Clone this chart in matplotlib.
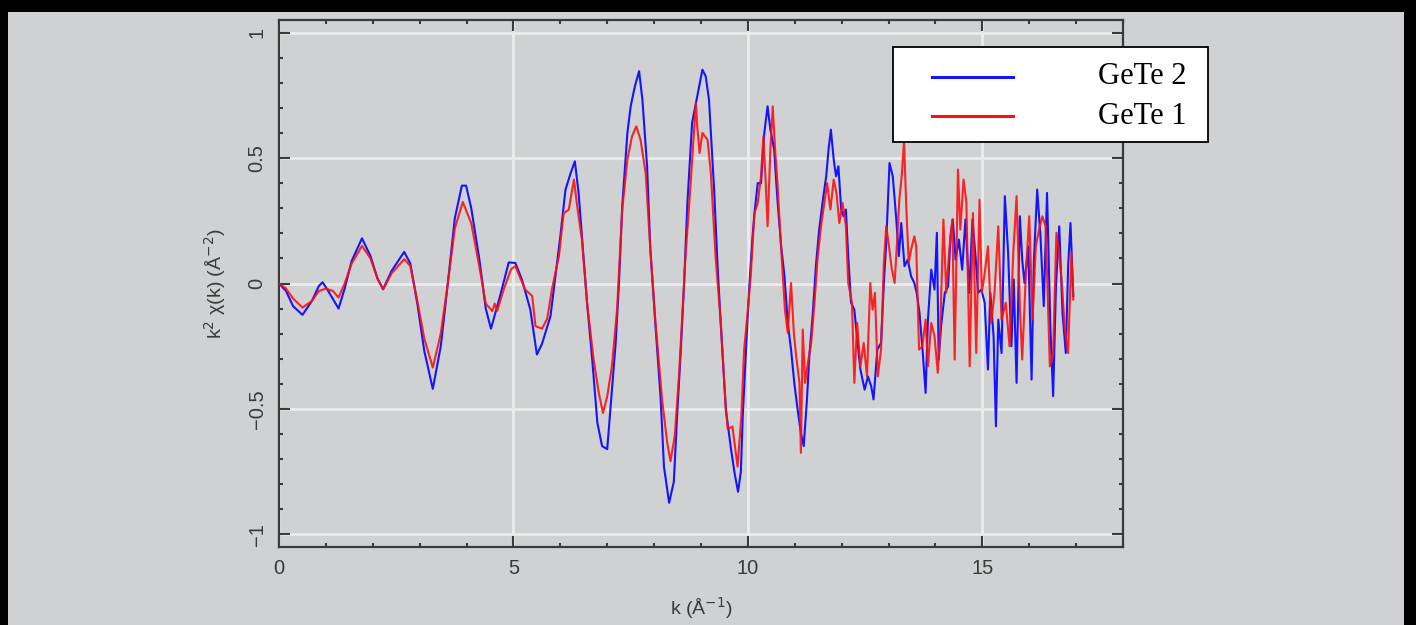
import matplotlib
matplotlib.use("Agg")
import matplotlib.pyplot as plt
from matplotlib.patches import Rectangle
from matplotlib.lines import Line2D
from matplotlib.ticker import MultipleLocator

# ---------------- data ----------------
series_labels = ["GeTe 2", "GeTe 1"]
series_colors = ["#1414ff", "#ff0f0f"]

k_gete2 = [0, 0.15, 0.3, 0.5, 0.7, 0.85, 0.93, 1.05, 1.27, 1.4, 1.55, 1.77, 1.95, 2.1, 2.22, 2.4,
           2.67, 2.8, 2.95, 3.1, 3.28, 3.45, 3.6, 3.75, 3.9, 3.99, 4.1, 4.27, 4.41, 4.52, 4.7, 4.9,
           5.04, 5.18, 5.36, 5.5, 5.61, 5.79, 5.93, 6.0, 6.11, 6.22, 6.31, 6.39, 6.46, 6.57, 6.68,
           6.79, 6.89, 7.0, 7.1, 7.18, 7.25, 7.32, 7.43, 7.5, 7.59, 7.68, 7.75, 7.85, 7.92, 8.03,
           8.14, 8.21, 8.32, 8.42, 8.49, 8.57, 8.64, 8.71, 8.81, 8.92, 9.03, 9.1, 9.17, 9.28, 9.35,
           9.42, 9.53, 9.64, 9.72, 9.79, 9.85, 9.89, 9.96, 10.03, 10.1, 10.14, 10.21, 10.28, 10.35,
           10.42, 10.48, 10.56, 10.63, 10.71, 10.78, 10.85, 10.92, 10.99, 11.06, 11.13, 11.19,
           11.26, 11.31, 11.38, 11.45, 11.52, 11.6, 11.67, 11.72, 11.77, 11.83, 11.88, 11.93,
           11.99, 12.04, 12.09, 12.14, 12.2, 12.27, 12.34, 12.4, 12.49, 12.56, 12.63, 12.68,
           12.76, 12.84, 12.9, 12.95, 13.02, 13.09, 13.16, 13.22, 13.27, 13.34, 13.41, 13.48,
           13.55, 13.6, 13.66, 13.73, 13.79, 13.84, 13.91, 13.98, 14.03, 14.07, 14.12, 14.2,
           14.27, 14.32, 14.37, 14.43, 14.5, 14.57, 14.64, 14.72, 14.79, 14.86, 14.91, 14.98,
           15.05, 15.12, 15.17, 15.24, 15.29, 15.34, 15.41, 15.48, 15.55, 15.62, 15.67, 15.73,
           15.8, 15.85, 15.9, 15.98, 16.05, 16.1, 16.17, 16.24, 16.31, 16.38, 16.45, 16.51,
           16.57, 16.64, 16.71, 16.78, 16.83, 16.88, 16.94]
chi_gete2 = [0, -0.03, -0.09, -0.125, -0.07, -0.01, 0.005, -0.03, -0.10, -0.02, 0.09, 0.18, 0.11,
             0.02, -0.023, 0.05, 0.126, 0.08, -0.08, -0.27, -0.42, -0.25, 0.0, 0.26, 0.39, 0.39,
             0.30, 0.10, -0.10, -0.18, -0.06, 0.084, 0.082, 0.016, -0.104, -0.283, -0.24, -0.13,
             0.082, 0.188, 0.374, 0.44, 0.487, 0.36, 0.188, -0.077, -0.303, -0.555, -0.648, -0.66,
             -0.423, -0.237, 0.0, 0.308, 0.6, 0.706, 0.786, 0.846, 0.733, 0.467, 0.135, -0.17,
             -0.46, -0.73, -0.874, -0.79, -0.53, -0.263, 0.002, 0.321, 0.64, 0.746, 0.852, 0.826,
             0.733, 0.374, 0.082, -0.157, -0.502, -0.66, -0.76, -0.83, -0.75, -0.53, -0.263,
             -0.011, 0.188, 0.28, 0.4, 0.4, 0.6, 0.706, 0.613, 0.534, 0.334, 0.148, 0.029, -0.157,
             -0.263, -0.396, -0.502, -0.595, -0.648, -0.462, -0.29, -0.13, 0.069, 0.215, 0.334,
             0.427, 0.534, 0.613, 0.494, 0.427, 0.467, 0.295, 0.268, 0.295, 0.109, -0.077, -0.104,
             -0.237, -0.343, -0.423, -0.37, -0.41, -0.462, -0.263, -0.237, 0.002, 0.162, 0.48,
             0.427, 0.268, 0.109, 0.241, 0.069, 0.095, 0.029, 0.002, -0.037, -0.117, -0.277,
             -0.436, -0.144, 0.055, -0.024, 0.202, -0.303, -0.17, -0.037, -0.011, 0.188, 0.255,
             0.095, 0.175, 0.055, 0.255, -0.037, 0.255, 0.095, -0.037, -0.024, -0.077, -0.343,
             -0.037, -0.21, -0.569, -0.144, -0.277, 0.348, 0.122, -0.25, 0.016, -0.396, 0.268,
             0.095, 0.002, 0.148, -0.383, 0.095, 0.374, 0.188, -0.09, 0.361, -0.17, -0.449,
             -0.011, 0.228, -0.117, -0.277, 0.069, 0.241, -0.05]

k_gete1 = [0, 0.15, 0.3, 0.5, 0.7, 0.85, 1.0, 1.15, 1.27, 1.4, 1.55, 1.77, 1.95, 2.1, 2.22, 2.4,
           2.67, 2.8, 2.95, 3.1, 3.28, 3.45, 3.6, 3.75, 3.92, 4.1, 4.27, 4.41, 4.55, 4.6, 4.65,
           4.8, 4.95, 5.04, 5.25, 5.4, 5.47, 5.61, 5.72, 5.82, 5.97, 6.07, 6.18, 6.29, 6.36, 6.46,
           6.57, 6.71, 6.82, 6.91, 7.0, 7.1, 7.21, 7.32, 7.43, 7.53, 7.62, 7.71, 7.82, 7.92, 8.03,
           8.17, 8.28, 8.35, 8.44, 8.53, 8.6, 8.67, 8.78, 8.89, 8.92, 8.97, 9.03, 9.14, 9.21, 9.31,
           9.42, 9.53, 9.57, 9.67, 9.78, 9.86, 9.92, 10.0, 10.06, 10.14, 10.21, 10.28, 10.33,
           10.38, 10.42, 10.48, 10.53, 10.58, 10.63, 10.71, 10.79, 10.85, 10.92, 10.98, 11.03,
           11.1, 11.13, 11.17, 11.22, 11.28, 11.35, 11.42, 11.49, 11.56, 11.63, 11.69, 11.76,
           11.83, 11.89, 11.95, 12.02, 12.09, 12.14, 12.22, 12.27, 12.33, 12.4, 12.47, 12.54,
           12.61, 12.66, 12.71, 12.77, 12.84, 12.9, 12.95, 13.0, 13.07, 13.13, 13.18, 13.23,
           13.28, 13.33, 13.38, 13.43, 13.48, 13.55, 13.59, 13.65, 13.72, 13.79, 13.84, 13.91,
           13.98, 14.05, 14.1, 14.17, 14.23, 14.29, 14.36, 14.41, 14.48, 14.53, 14.6, 14.66,
           14.73, 14.8, 14.87, 14.94, 14.99, 15.06, 15.12, 15.19, 15.26, 15.34, 15.41, 15.5,
           15.58, 15.66, 15.73, 15.8, 15.85, 15.93, 16.0, 16.07, 16.14, 16.21, 16.28, 16.35,
           16.44, 16.51, 16.58, 16.64, 16.71, 16.76, 16.83, 16.9, 16.94]
chi_gete1 = [0, -0.02, -0.06, -0.096, -0.07, -0.03, -0.02, -0.03, -0.056, 0.0, 0.08, 0.15, 0.10,
             0.02, -0.023, 0.04, 0.097, 0.07, -0.07, -0.22, -0.335, -0.2, 0.0, 0.22, 0.325, 0.24,
             0.07, -0.08, -0.11, -0.08, -0.11, -0.02, 0.057, 0.069, -0.024, -0.05, -0.17, -0.18,
             -0.14, -0.024, 0.109, 0.28, 0.294, 0.414, 0.308, 0.175, -0.077, -0.303, -0.436,
             -0.516, -0.45, -0.33, -0.104, 0.295, 0.494, 0.587, 0.626, 0.573, 0.44, 0.135, -0.157,
             -0.462, -0.635, -0.708, -0.608, -0.369, -0.13, 0.109, 0.4, 0.72, 0.626, 0.52, 0.6,
             0.573, 0.44, 0.109, -0.15, -0.5, -0.58, -0.57, -0.73, -0.53, -0.263, -0.104, 0.029,
             0.28, 0.32, 0.427, 0.587, 0.4, 0.228, 0.534, 0.706, 0.534, 0.4, 0.135, -0.104,
             -0.197, 0.002, -0.197, -0.29, -0.396, -0.675, -0.183, -0.396, -0.316, -0.237, -0.077,
             0.109, 0.228, 0.321, 0.4, 0.295, 0.414, 0.36, 0.241, 0.321, 0.228, 0.002, -0.077,
             -0.396, -0.157, -0.33, -0.237, -0.37, 0.002, -0.104, -0.037, -0.37, -0.263, 0.082,
             0.228, 0.162, 0.056, 0.002, 0.162, 0.334, 0.427, 0.57, 0.295, 0.082, 0.135, 0.188,
             0.148, -0.263, -0.25, -0.144, -0.33, -0.157, -0.21, -0.356, -0.197, 0.255, -0.037,
             0.122, 0.255, -0.303, 0.454, 0.215, 0.414, 0.321, -0.33, 0.281, -0.277, 0.334,
             -0.037, 0.055, 0.148, -0.157, -0.037, 0.228, -0.144, -0.077, -0.25, 0.122, 0.348,
             -0.09, -0.303, 0.042, 0.268, -0.144, 0.148, 0.215, 0.268, 0.228, -0.33, -0.277,
             0.202, 0.122, -0.037, -0.184, -0.277, 0.122, -0.064]

x_ticks = [0, 5, 10, 15]
y_ticks = [-1, -0.5, 0, 0.5, 1]
y_ticklabels = ["\u22121", "\u22120.5", "0", "0.5", "1"]

# ---------------- figure ----------------
plt.rcParams["font.family"] = ["Liberation Sans", "DejaVu Sans"]
W, H = 1416, 625
bg = "#cfd1d2"
fig = plt.figure(figsize=(W / 100, H / 100), dpi=100, facecolor=bg)
ax = fig.add_axes([279 / W, 1 - 547 / H, (1123 - 279) / W, (547 - 20) / H])
ax.set_facecolor(bg)

axc = "#3a3a3a"
for sp in ax.spines.values():
    sp.set_color(axc)
    sp.set_linewidth(1.6)

ax.grid(True, which="major", color="#ececec", linewidth=2.0, zorder=0)
ax.set_axisbelow(True)

ax.plot(k_gete2, chi_gete2, color=series_colors[0], linewidth=1.5, zorder=3)
ax.plot(k_gete1, chi_gete1, color=series_colors[1], linewidth=1.5, zorder=3, alpha=0.9)

ax.set_xlim(0, 18)
ax.set_ylim(-1.05, 1.05)
ax.set_xticks(x_ticks)
ax.set_yticks(y_ticks)
ax.set_yticklabels(y_ticklabels)
ax.xaxis.set_minor_locator(MultipleLocator(1))
ax.yaxis.set_minor_locator(MultipleLocator(0.1))
ax.tick_params(which="both", direction="in", top=True, right=True, color=axc, width=1.5)
ax.tick_params(which="major", length=8)
ax.tick_params(which="minor", length=3)
ax.tick_params(axis="x", which="major", labelsize=14.5, labelcolor=axc, pad=9)
ax.tick_params(axis="y", which="major", labelsize=14.5, labelcolor=axc, pad=9)
for lab in ax.get_yticklabels():
    lab.set_rotation(90)
    lab.set_va("center")

ax.set_xlabel("k (\u00c5$^{-1}$)", fontsize=14, color=axc, labelpad=12)
ax.set_ylabel("k$^2$ \u03c7(k) (\u00c5$^{-2}$)", fontsize=14, color=axc, labelpad=14)

# ---------------- legend box (figure coords) ----------------
fig.add_artist(Rectangle((893 / W, 1 - 142 / H), (1208 - 893) / W, (142 - 47) / H,
                         transform=fig.transFigure, facecolor="white", edgecolor="black",
                         linewidth=1.3, zorder=10))
leg_rows = [77, 116]
for lab, col, yy in zip(series_labels, series_colors, leg_rows):
    fig.add_artist(Line2D([932 / W, 1013 / W], [1 - yy / H, 1 - yy / H], transform=fig.transFigure,
                          color=col, linewidth=2.2, zorder=11))
    fig.text(1186 / W, 1 - yy / H, lab, ha="right", va="center", fontsize=22,
             family="Liberation Serif", color="black", zorder=11)

# ---------------- black frame: (left px, top px, width px, height px) ----------------
for (x0, top, w, h) in [(0, 0, W, 12), (0, 0, 8, H), (1404, 0, 12, H)]:
    fig.add_artist(Rectangle((x0 / W, 1 - (top + h) / H), w / W, h / H,
                             transform=fig.transFigure, facecolor="black", edgecolor="none",
                             zorder=20))

fig.savefig("out.png", dpi=100, facecolor=bg)
